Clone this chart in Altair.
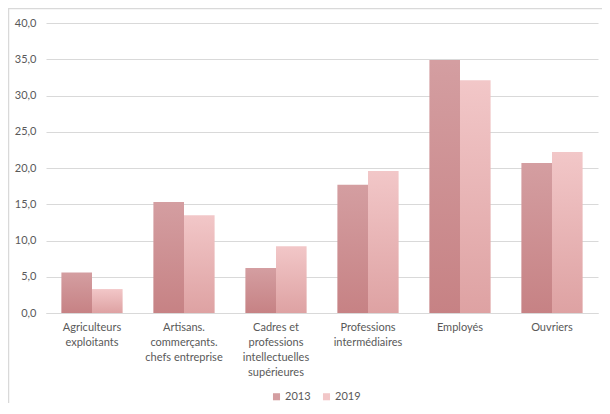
import altair as alt
import pandas as pd

categories = [
    "Agriculteurs|exploitants",
    "Artisans.|commerçants.|chefs entreprise",
    "Cadres et|professions|intellectuelles|supérieures",
    "Professions|intermédiaires",
    "Employés",
    "Ouvriers",
]
years = ["2013", "2019"]
values_2013 = [5.6, 15.3, 6.2, 17.7, 34.9, 20.7]
values_2019 = [3.3, 13.5, 9.2, 19.6, 32.1, 22.2]
y_ticks = [0, 5, 10, 15, 20, 25, 30, 35, 40]
colors = ["#d49ea1", "#f2c7c8"]

rows = []
for c, a, b in zip(categories, values_2013, values_2019):
    rows.append({"cat": c, "year": "2013", "value": a})
    rows.append({"cat": c, "year": "2019", "value": b})
df = pd.DataFrame(rows)

FONT = "Lato"
LABEL = "#595959"
GRID = "#d9d9d9"

x_enc = alt.X(
    "cat:N",
    sort=categories,
    scale=alt.Scale(paddingInner=0.335, paddingOuter=0.1675),
    axis=alt.Axis(
        title=None,
        labelAngle=0,
        labelExpr="split(datum.label, '|')",
        labelLineHeight=15,
        labelFontSize=11,
        labelFont=FONT,
        labelColor=LABEL,
        labelPadding=8,
        domain=True,
        domainColor=GRID,
        ticks=False,
    ),
)
y_enc = alt.Y(
    "value:Q",
    scale=alt.Scale(domain=[0, 40], nice=False),
    axis=alt.Axis(
        title=None,
        values=y_ticks,
        labelExpr="replace(format(datum.value, '.1f'), '.', ',')",
        labelFontSize=11,
        labelFont=FONT,
        labelColor=LABEL,
        labelPadding=10,
        grid=True,
        gridColor=GRID,
        domain=False,
        ticks=False,
    ),
)
xo_enc = alt.XOffset("year:N", scale=alt.Scale(domain=years, paddingInner=0, paddingOuter=0))

base = alt.Chart(df)

bars = base.mark_bar(strokeWidth=0).encode(
    x=x_enc,
    y=y_enc,
    xOffset=xo_enc,
    color=alt.Color(
        "year:N",
        scale=alt.Scale(domain=years, range=colors),
        legend=alt.Legend(
            title=None,
            orient="none",
            legendX=225,
            legendY=368,
            direction="horizontal",
            symbolType="square",
            symbolSize=50,
            symbolStrokeWidth=0,
            labelFontSize=11,
            labelFont=FONT,
            labelColor=LABEL,
            labelOffset=3,
            columnPadding=10,
        ),
    ),
)

shade = base.mark_bar(
    strokeWidth=0,
    color=alt.Gradient(
        gradient="linear",
        stops=[
            alt.GradientStop(offset=0, color="rgba(150,30,30,0)"),
            alt.GradientStop(offset=1, color="rgba(150,30,30,0.22)"),
        ],
        x1=0, x2=0, y1=0, y2=1,
    ),
).encode(x=x_enc, y=y_enc, xOffset=xo_enc)

frame_df = pd.DataFrame({"a": [0]})
top_border = alt.Chart(frame_df).mark_rule(color=GRID, strokeWidth=1.5).encode(
    x=alt.value(-38), x2=alt.value(560), y=alt.value(-14.5)
)
left_border = alt.Chart(frame_df).mark_rule(color=GRID, strokeWidth=1.5).encode(
    x=alt.value(-37.5), y=alt.value(-15), y2=alt.value(400)
)

chart = (
    alt.layer(bars, shade, top_border, left_border)
    .properties(
        width=552,
        height=290,
        autosize=alt.AutoSizeParams(type="none"),
        padding={"left": 38, "top": 15, "right": 4, "bottom": 90},
    )
    .configure_view(stroke=None)
)

chart.save("out.html", embed_options={"renderer": "svg", "actions": False})
